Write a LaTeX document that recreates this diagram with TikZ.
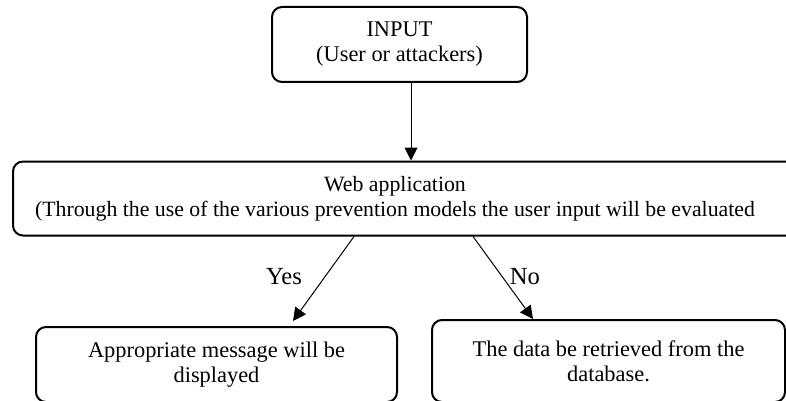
\documentclass[tikz,border=0pt]{standalone}
\usepackage{fontspec}
\setmainfont{Liberation Serif}
\usetikzlibrary{arrows.meta}
\begin{document}
\begin{tikzpicture}[x=0.5pt,y=-0.5pt,
  every node/.style={font=\fontsize{11.2}{12.5}\selectfont},
  box/.style={draw,line width=1pt,rounded corners=5pt,align=center,inner sep=0pt},
  lbl/.style={font=\fontsize{12.3}{14}\selectfont},
  arr/.style={-{Triangle[length=6.5pt,width=6.5pt]},line width=0.5pt}]
  \useasboundingbox (0,0) rectangle (786,401);
  \clip (0,0) rectangle (786,401);
  \node[box,minimum width=127.5pt,minimum height=37.5pt] (inp) at (399.5,44.5) {INPUT\\(User or attackers)};
  \node[box,minimum width=400pt,minimum height=37pt] (web) at (413,198.5) {};
  \node[align=center,font=\fontsize{10.9}{12.5}\selectfont] (webtxt) at (395,199) {Web application\\(Through the use of the various prevention models the user input will be evaluated};
  \node[box,minimum width=180.5pt,minimum height=37.5pt] (msg) at (216.5,364.5) {Appropriate message will be\\displayed};
  \node[box,minimum width=176.5pt,minimum height=41pt] (dat) at (608.5,361) {The data be retrieved from the\\database.};
  \coordinate (t1) at ([xshift=5.75pt]inp.south);
  \draw[arr] (t1) -- (t1 |- web.north);
  \draw[arr] ([xshift=-29.5pt]web.south) -- ([xshift=38.25pt,yshift=2.5pt]msg.north);
  \draw[arr] ([xshift=30pt]web.south) -- ([xshift=-37.75pt]dat.north);
  \node[lbl] (yes) at (284,277) {Yes};
  \node[lbl] (no) at (525,277) {No};
\end{tikzpicture}
\end{document}
